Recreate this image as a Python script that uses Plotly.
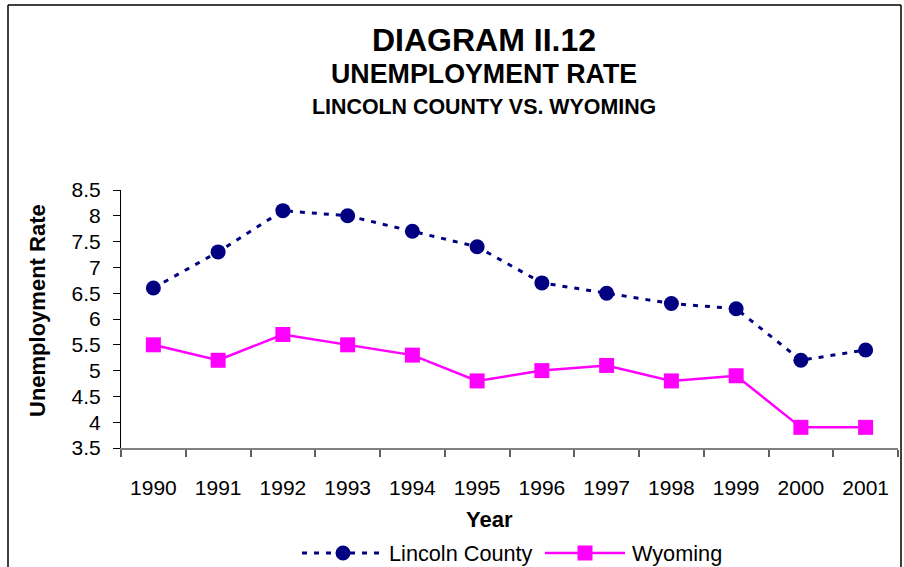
import plotly.graph_objects as go

# Unemployment rate (%) by year
years = ["1990", "1991", "1992", "1993", "1994", "1995",
         "1996", "1997", "1998", "1999", "2000", "2001"]
lincoln_county = [6.6, 7.3, 8.1, 8.0, 7.7, 7.4, 6.7, 6.5, 6.3, 6.2, 5.2, 5.4]
wyoming = [5.5, 5.2, 5.7, 5.5, 5.3, 4.8, 5.0, 5.1, 4.8, 4.9, 3.9, 3.9]

y_ticks = [3.5, 4, 4.5, 5, 5.5, 6, 6.5, 7, 7.5, 8, 8.5]

NAVY = "#000080"
MAGENTA = "#FF00FF"
FONT = "Liberation Sans, Arial, sans-serif"
TEXT_SIZE = 21

W, H = 904, 567
L, R, T, B = 121, 6, 190, 119
PW, PH = W - L - R, H - T - B


def px(x):
    """page pixel x -> paper x"""
    return (x - L) / PW


def py(y):
    """page pixel y -> paper y"""
    return (H - B - y) / PH


fig = go.Figure()

fig.add_trace(go.Scatter(
    x=years, y=lincoln_county, name="Lincoln County", mode="lines+markers",
    line=dict(color=NAVY, width=3, dash="5px,7px"),
    marker=dict(symbol="circle", size=15, color=NAVY, line=dict(width=0)),
    showlegend=False, cliponaxis=False,
))
fig.add_trace(go.Scatter(
    x=years, y=wyoming, name="Wyoming", mode="lines+markers",
    line=dict(color=MAGENTA, width=2.5),
    marker=dict(symbol="square", size=15, color=MAGENTA, line=dict(width=0)),
    showlegend=False, cliponaxis=False,
))

annotations = [
    dict(text="<b>DIAGRAM II.12</b>", x=px(484), y=py(40), size=32),
    dict(text="<b>UNEMPLOYMENT RATE</b>", x=px(484), y=py(74), size=26.8),
    dict(text="<b>LINCOLN COUNTY VS. WYOMING</b>", x=px(484), y=py(107), size=21.4),
    dict(text="<b>Year</b>", x=px(489), y=py(519), size=22),
]
ann = []
for a in annotations:
    ann.append(dict(text=a["text"], x=a["x"], y=a["y"], xref="paper", yref="paper",
                    xanchor="center", yanchor="middle", showarrow=False,
                    font=dict(family=FONT, size=a["size"], color="black")))

# y-axis title
ann.append(dict(text="<b>Unemployment Rate</b>", x=px(37), y=py(311),
                xref="paper", yref="paper", xanchor="center", yanchor="middle",
                textangle=-90, showarrow=False,
                font=dict(family=FONT, size=22, color="black")))

# legend labels
ann.append(dict(text="Lincoln County", x=px(387), y=py(553), xref="paper", yref="paper",
                xanchor="left", yanchor="middle", showarrow=False,
                font=dict(family=FONT, size=21.7, color="black")))
ann.append(dict(text="Wyoming", x=px(630), y=py(553), xref="paper", yref="paper",
                xanchor="left", yanchor="middle", showarrow=False,
                font=dict(family=FONT, size=21.7, color="black")))

shapes = [
    # chart border
    dict(type="line", xref="paper", yref="paper", x0=px(8), x1=px(8), y0=py(5), y1=py(580),
         line=dict(color="black", width=1.5)),
    dict(type="line", xref="paper", yref="paper", x0=px(8), x1=px(901), y0=py(5), y1=py(5),
         line=dict(color="black", width=1.5)),
    dict(type="line", xref="paper", yref="paper", x0=px(901), x1=px(901), y0=py(5), y1=py(580),
         line=dict(color="black", width=1.5)),
    # legend samples
    dict(type="line", xref="paper", yref="paper", x0=px(302), x1=px(384), y0=py(553), y1=py(553),
         line=dict(color=NAVY, width=3, dash="5px,7px")),
    dict(type="circle", xref="paper", yref="paper", xsizemode="pixel", ysizemode="pixel",
         xanchor=px(343), yanchor=py(553), x0=-7.5, x1=7.5, y0=-7.5, y1=7.5,
         fillcolor=NAVY, line=dict(width=0)),
    dict(type="line", xref="paper", yref="paper", x0=px(545), x1=px(625), y0=py(553), y1=py(553),
         line=dict(color=MAGENTA, width=2.5)),
    dict(type="rect", xref="paper", yref="paper", xsizemode="pixel", ysizemode="pixel",
         xanchor=px(585), yanchor=py(553), x0=-7.5, x1=7.5, y0=-7.5, y1=7.5,
         fillcolor=MAGENTA, line=dict(width=0)),
]

fig.update_layout(
    width=W, height=H,
    margin=dict(l=L, r=R, t=T, b=B, pad=0),
    paper_bgcolor="white", plot_bgcolor="white",
    font=dict(family=FONT, size=TEXT_SIZE, color="black"),
    annotations=ann, shapes=shapes,
    xaxis=dict(
        type="category", categoryorder="array", categoryarray=years,
        range=[-0.5, len(years) - 0.5],
        showline=True, linecolor="#808080", linewidth=1.5,
        ticks="outside", tickson="boundaries", ticklen=7, tickcolor="#606060", tickwidth=1.5,
        ticklabelstandoff=20,
        showgrid=False, zeroline=False,
        tickfont=dict(family=FONT, size=TEXT_SIZE, color="black"),
    ),
    yaxis=dict(
        range=[3.5, 8.5], tickvals=y_ticks,
        ticktext=[f"{v:g}" for v in y_ticks],
        showline=True, linecolor="black", linewidth=1,
        ticks="outside", ticklen=7, tickcolor="black",
        ticklabelstandoff=8,
        showgrid=False, zeroline=False,
        tickfont=dict(family=FONT, size=TEXT_SIZE, color="black"),
    ),
)

fig.write_html("out.html")
